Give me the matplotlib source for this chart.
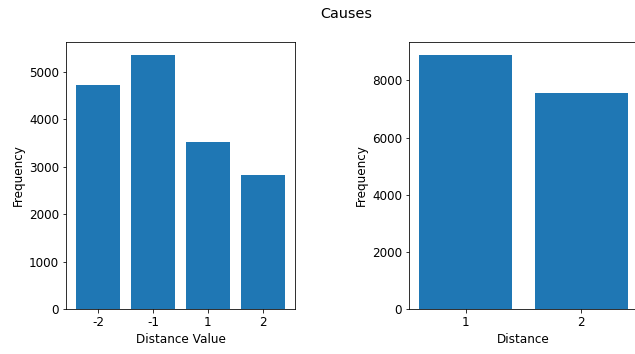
import matplotlib
matplotlib.use("Agg")
import matplotlib.pyplot as plt

# values
distance_value_labels = ["-2", "-1", "1", "2"]
distance_value_counts = [4720, 5360, 3530, 2815]

distance_labels = ["1", "2"]
distance_counts = [8900, 7550]

plt.rcParams["font.size"] = 12

fig, (ax1, ax2) = plt.subplots(1, 2, figsize=(635 / 72, 354 / 72), dpi=72)
# right axes runs a little past the right edge, as in the reference
fig.subplots_adjust(left=66 / 635, right=638 / 635, top=1 - 42 / 354, bottom=1 - 309 / 354, wspace=114 / 229)

ax1.bar(distance_value_labels, distance_value_counts, color="#1f77b4")
ax1.set_xlabel("Distance Value")
ax1.set_ylabel("Frequency")

ax2.bar(distance_labels, distance_counts, color="#1f77b4")
ax2.set_xlabel("Distance")
ax2.set_ylabel("Frequency")

fig.suptitle("Causes", x=346 / 635, y=0.98)

fig.savefig("out.png", dpi=72)
